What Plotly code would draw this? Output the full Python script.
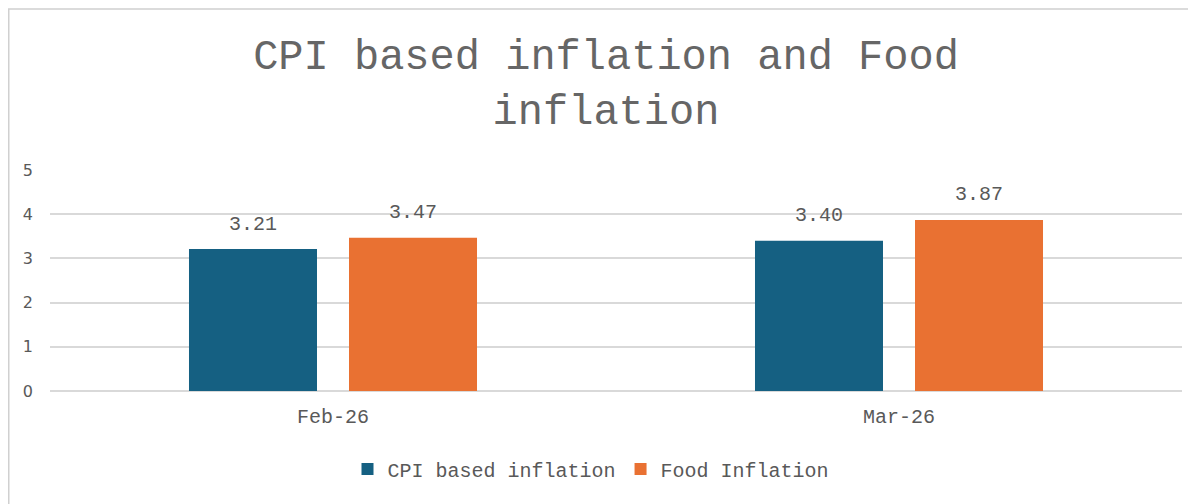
import plotly.graph_objects as go

categories = ["Feb-26", "Mar-26"]
cpi_values = [3.21, 3.40]
food_values = [3.47, 3.87]
series_names = ["CPI based inflation", "Food Inflation"]
y_ticks = [0, 1, 2, 3, 4, 5]

BLUE = "#156082"
ORANGE = "#E97132"
TXT = "#595959"
MONO = "Liberation Mono"

W, H = 1188, 496
L, R, T, B = 42, 14, 162, 113
PW, PH = W - L - R, H - T - B

fig = go.Figure()
fig.add_trace(go.Bar(x=categories, y=cpi_values, name=series_names[0],
                     marker=dict(color=BLUE, line=dict(width=0))))
fig.add_trace(go.Bar(x=categories, y=food_values, name=series_names[1],
                     marker=dict(color=ORANGE, line=dict(width=0))))

# data labels
annotations = []
for vals, shift in ((cpi_values, -80), (food_values, 80)):
    for c, v in zip(categories, vals):
        annotations.append(dict(x=c, y=v, xref="x", yref="y", text=f"{v:.2f}",
                                showarrow=False, xshift=shift, yshift=25,
                                yanchor="middle",
                                font=dict(family=MONO, size=20, color=TXT)))

fig.update_layout(
    width=W, height=H,
    margin=dict(l=L, r=R, t=T, b=B),
    paper_bgcolor="white", plot_bgcolor="white",
    barmode="group", bargap=0.4346, bargroupgap=0.2,
    title=dict(text="CPI based inflation and Food<br>inflation",
               x=598/W, xanchor="center", xref="container",
               y=1 - 61/H, yanchor="top", yref="container",
               font=dict(family=MONO, size=42, color="#666666")),
    xaxis=dict(tickfont=dict(family=MONO, size=20, color=TXT),
               showline=False, ticks="", showgrid=False, ticklabelstandoff=11),
    yaxis=dict(range=[0, 5], tickvals=y_ticks, showgrid=True, gridcolor="#d9d9d9",
               gridwidth=1.5, zeroline=True, zerolinecolor="#d9d9d9", zerolinewidth=1.5,
               tickfont=dict(family="DejaVu Sans", size=16, color=TXT),
               ticks="", ticklabelstandoff=16, showline=False),
    legend=dict(orientation="h", x=(583 - L) / PW, xanchor="center",
                y=-(469 - 8 - (T + PH)) / PH, yanchor="middle",
                font=dict(family=MONO, size=20, color=TXT), itemwidth=30),
    annotations=annotations,
    showlegend=True,
)

fig.add_shape(type="rect", xref="paper", yref="paper",
              x0=(0.75 - L) / PW, x1=(W + 10 - L) / PW,
              y0=-(H + 10 - T - PH) / PH, y1=(T + PH - 1) / PH,
              line=dict(color="#d0d0d0", width=1.5), layer="below")

fig.write_html("out.html")
